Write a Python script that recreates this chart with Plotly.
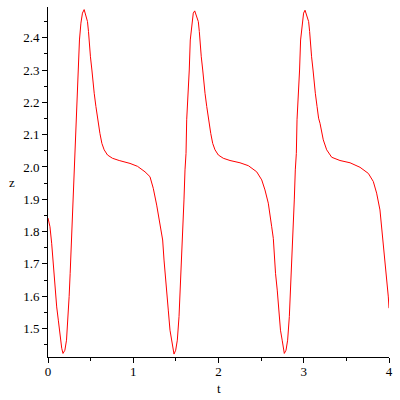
import plotly.graph_objects as go

t_vals = [
    0.000, 0.023, 0.043, 0.062, 0.082, 0.102, 0.121, 0.141, 0.161, 0.176,
    0.198, 0.217, 0.237, 0.248, 0.260, 0.275, 0.287, 0.295, 0.307, 0.319,
    0.327, 0.346, 0.357, 0.369, 0.386, 0.404, 0.424, 0.444, 0.463, 0.475,
    0.483, 0.498, 0.515, 0.526, 0.542, 0.562, 0.580, 0.609, 0.632, 0.659,
    0.698, 0.756, 0.835, 0.962, 1.050, 1.138, 1.196, 1.235, 1.275, 1.314,
    1.345, 1.361, 1.372, 1.392, 1.411, 1.431, 1.451, 1.463, 1.478,
    1.498, 1.517, 1.537, 1.548, 1.560, 1.575, 1.587, 1.595, 1.607, 1.619,
    1.627, 1.646, 1.657, 1.669, 1.686, 1.704, 1.721, 1.744, 1.763, 1.775,
    1.783, 1.798, 1.815, 1.826, 1.842, 1.862, 1.880, 1.909, 1.932, 1.959,
    1.998, 2.056, 2.135, 2.252, 2.350, 2.448, 2.507, 2.545, 2.584, 2.604,
    2.624, 2.643, 2.657, 2.669, 2.689, 2.707, 2.727, 2.747, 2.759, 2.772,
    2.792, 2.811, 2.831, 2.842, 2.854, 2.869, 2.881, 2.889, 2.901, 2.913,
    2.921, 2.940, 2.951, 2.963, 2.980, 2.998, 3.015, 3.038, 3.057, 3.069,
    3.077, 3.092, 3.109, 3.120, 3.136, 3.156, 3.174, 3.191, 3.229, 3.269,
    3.328, 3.425, 3.543, 3.660, 3.758, 3.816, 3.855, 3.894, 3.914, 3.933,
    3.953, 3.973, 3.992, 4.000,
]
z_vals = [
    1.842, 1.815, 1.764, 1.700, 1.619, 1.567, 1.526, 1.475, 1.439, 1.423,
    1.433, 1.464, 1.537, 1.599, 1.671, 1.774, 1.846, 1.898, 1.991, 2.042,
    2.146, 2.228, 2.300, 2.393, 2.445, 2.476, 2.487, 2.467, 2.450, 2.419,
    2.383, 2.341, 2.300, 2.259, 2.228, 2.187, 2.151, 2.104, 2.073, 2.053,
    2.037, 2.027, 2.020, 2.011, 2.002, 1.985, 1.970, 1.934, 1.882, 1.826,
    1.774, 1.712, 1.671, 1.619, 1.557, 1.495, 1.464, 1.439, 1.421,
    1.433, 1.464, 1.537, 1.599, 1.671, 1.774, 1.846, 1.898, 1.991, 2.042,
    2.146, 2.228, 2.300, 2.393, 2.445, 2.476, 2.483, 2.465, 2.450, 2.419,
    2.383, 2.341, 2.300, 2.259, 2.228, 2.187, 2.151, 2.104, 2.073, 2.053,
    2.037, 2.027, 2.020, 2.013, 2.004, 1.985, 1.960, 1.929, 1.888, 1.857,
    1.815, 1.779, 1.712, 1.671, 1.619, 1.557, 1.495, 1.464, 1.439, 1.423,
    1.433, 1.464, 1.537, 1.599, 1.671, 1.774, 1.846, 1.898, 1.991, 2.042,
    2.146, 2.228, 2.300, 2.393, 2.445, 2.476, 2.485, 2.465, 2.450, 2.419,
    2.383, 2.341, 2.300, 2.259, 2.228, 2.187, 2.151, 2.135, 2.084, 2.053,
    2.030, 2.020, 2.013, 1.999, 1.980, 1.955, 1.919, 1.867, 1.815, 1.764,
    1.702, 1.650, 1.598, 1.563,
]

x_label = "t"
y_label = "z"
font_family = "Liberation Serif"

fig = go.Figure()
fig.add_trace(go.Scatter(x=t_vals, y=z_vals, mode="lines",
                         line=dict(color="#ff0000", width=1), showlegend=False,
                         cliponaxis=False))

fig.update_layout(
    width=400, height=400,
    margin=dict(l=48, r=11, t=7, b=43, autoexpand=False),
    paper_bgcolor="white", plot_bgcolor="white",
    font=dict(family=font_family, size=13, color="black"),
    xaxis=dict(range=[0, 4], showgrid=False, zeroline=False, automargin=False,
               showline=True, linecolor="black", linewidth=1,
               ticks="outside", ticklen=5, tickcolor="black", dtick=1, tick0=0,
               ticklabelstandoff=-3,
               minor=dict(ticks="outside", ticklen=3, dtick=0.5, tick0=0, tickcolor="black"),
               tickfont=dict(family=font_family, size=13, color="black")),
    yaxis=dict(range=[1.412, 2.495], showgrid=False, zeroline=False, automargin=False,
               showline=True, linecolor="black", linewidth=1,
               ticks="outside", ticklen=5, tickcolor="black", dtick=0.1, tick0=1.5,
               tickformat=".1f",
               minor=dict(ticks="outside", ticklen=3, dtick=0.05, tick0=1.5, tickcolor="black"),
               tickfont=dict(family=font_family, size=13, color="black")),
    annotations=[
        dict(text=x_label, xref="paper", yref="paper", x=0.5, y=-0.09,
             xanchor="center", yanchor="middle", showarrow=False,
             font=dict(family=font_family, size=13, color="black")),
        dict(text=y_label, xref="paper", yref="paper", x=-0.106, y=0.5,
             xanchor="center", yanchor="middle", showarrow=False,
             font=dict(family=font_family, size=13, color="black")),
    ],
)

fig.write_html("out.html", config={"displayModeBar": False},
               post_script="document.body.style.margin='0px';document.body.style.padding='0px';")
